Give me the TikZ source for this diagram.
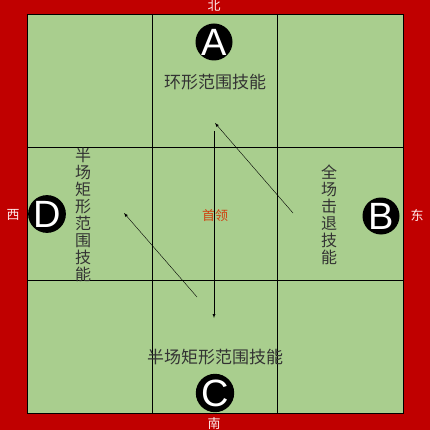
\documentclass[tikz,border=0pt]{standalone}
\usepackage{fontspec}
\setmainfont{Liberation Sans}
\newfontfamily\cjk{Noto Sans CJK SC}
\definecolor{bordred}{HTML}{C00000}
\definecolor{fieldgreen}{HTML}{A9CE8E}
\definecolor{bossred}{HTML}{D0400F}
\tikzset{
  seat/.style={circle,fill=black,minimum size=37pt,inner sep=0pt,text=white,font=\fontsize{38}{38}\selectfont},
  skill/.style={font=\cjk\fontsize{16}{17}\selectfont,text=black!80,inner sep=0pt,align=center},
  compass/.style={font=\cjk\fontsize{13}{13}\selectfont,text=white!92!red,inner sep=0pt},
}
\begin{document}
\begin{tikzpicture}[x=1pt,y=-1pt]
\useasboundingbox (0,0) rectangle (430,430);
\fill [bordred] (0,0) rectangle (430,430);
\fill [fieldgreen] (27,14) rectangle (403,413);
    \draw [line width=0.8pt] (27,14) rectangle (403,413);
    \draw (152,14) -- (152,413);
    \draw (277,14) -- (277,413);
    \draw (27,147) -- (403,147);
    \draw (27,280) -- (403,280);
    % compass
    \node[compass] (north) at (214,6) {北};
    \node[compass] (south) at (214,424) {南};
    \node[compass] (west) at (13,215) {西};
    \node[compass] (east) at (417,215) {东};
    % seats
    \node[seat] (A) at (214,42) {A};
    \node[seat] (B) at (381,216) {B};
    \node[seat] (C) at (215,393) {C};
    \node[seat] (D) at (47,214) {D};
    % skills
    \node[skill,font=\cjk\fontsize{17}{17}\selectfont] (ring) at (215,82) {环形范围技能};
    \node[skill] (knock) at (329,215) {全\\场\\击\\退\\技\\能};
    \node[skill] (halfW) at (83,215) {半\\场\\矩\\形\\范\\围\\技\\能};
    \node[skill,font=\cjk\fontsize{17}{17}\selectfont] (halfS) at (215,357) {半场矩形范围技能};
    \node[font=\cjk\fontsize{13}{13}\selectfont,text=bossred] (boss) at (215,216) {首领};
    % moves
    \coordinate (vTop) at (214,131);
    \coordinate (vEnd) at (214,318);
    \coordinate (nwFrom) at (293,213);
    \coordinate (nwTo) at (215,123);
    \coordinate (swFrom) at (197,297);
    \coordinate (swTo) at (124,213);
    \draw [-latex] (vTop) -- (vEnd);
    \draw [-latex] (nwFrom) -- (nwTo);
    \draw [-latex] (swFrom) -- (swTo);
\end{tikzpicture}
\end{document}
